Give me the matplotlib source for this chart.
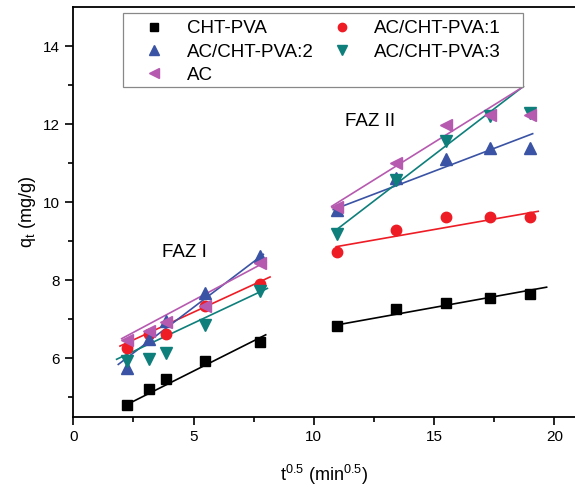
import matplotlib
matplotlib.use("Agg")
import matplotlib.pyplot as plt
from matplotlib.patches import Rectangle
import numpy as np

plt.rcParams['font.family'] = ['Liberation Sans', 'DejaVu Sans']
plt.rcParams['mathtext.default'] = 'regular'

# square root of contact time (min^0.5) for the two diffusion stages
x_faz1 = [2.24, 3.16, 3.87, 5.48, 7.75]
x_faz2 = [10.95, 13.42, 15.49, 17.32, 18.97]

names = ['CHT-PVA', 'AC/CHT-PVA:1', 'AC/CHT-PVA:2', 'AC/CHT-PVA:3', 'AC']

# q_t (mg/g)
q_faz1 = [
    [4.79, 5.20, 5.47, 5.94, 6.42],
    [6.26, 6.61, 6.62, 7.35, 7.91],
    [5.75, 6.48, 6.95, 7.68, 8.62],
    [5.92, 5.99, 6.14, 6.86, 7.72],
    [6.46, 6.69, 6.92, 7.35, 8.43],
]
q_faz2 = [
    [6.82, 7.25, 7.42, 7.55, 7.65],
    [8.73, 9.28, 9.61, 9.61, 9.61],
    [9.81, 10.63, 11.12, 11.39, 11.39],
    [9.19, 10.56, 11.56, 12.21, 12.29],
    [9.87, 11.01, 11.99, 12.25, 12.25],
]

# intraparticle diffusion fits: slope, intercept and x span of each line
fit1_slope = [0.310, 0.284, 0.468, 0.290, 0.329]
fit1_icpt = [4.12, 5.76, 4.965, 5.45, 5.84]
fit1_span = [(2.22, 8.00), (1.94, 8.18), (1.87, 7.90), (1.80, 8.07), (2.01, 7.93)]
fit2_slope = [0.111, 0.108, 0.235, 0.473, 0.385]
fit2_icpt = [5.637, 7.68, 7.27, 4.12, 5.76]
fit2_span = [(10.93, 19.68), (10.93, 19.33), (10.81, 19.10), (10.93, 18.71), (10.74, 18.71)]

colors = ['#000000', '#EE1C25', '#3A53A4', '#0E7F7B', '#B65AB0']
markers = ['s', 'o', '^', 'v', '<']
msizes = [6.5, 7.5, 8.5, 8.5, 8.5]

fig = plt.figure(figsize=(5.75, 4.87), dpi=100)
ax = fig.add_axes([0.1275, 0.1444, 0.8725, 0.8406])

handles = []
for i in range(5):
    for slope, icpt, span in ((fit1_slope[i], fit1_icpt[i], fit1_span[i]),
                              (fit2_slope[i], fit2_icpt[i], fit2_span[i])):
        xs = np.array(span)
        ax.plot(xs, icpt + slope * xs, color=colors[i], lw=1.2, zorder=2)
    ax.plot(x_faz1, q_faz1[i], ls='none', marker=markers[i], ms=msizes[i],
            color=colors[i], mec=colors[i], zorder=3)
    h, = ax.plot(x_faz2, q_faz2[i], ls='none', marker=markers[i], ms=msizes[i],
                 color=colors[i], mec=colors[i], zorder=3, label=names[i])
    handles.append(h)

ax.text(3.69, 8.70, 'FAZ I', fontsize=13.5, va='center', ha='left')
ax.text(11.3, 12.08, 'FAZ II', fontsize=13.5, va='center', ha='left')

ax.set_xlim(0, 20.86)
ax.set_ylim(4.5, 15.0)
ax.set_xticks([0, 5, 10, 15, 20])
ax.set_xticks([2.5, 7.5, 12.5, 17.5], minor=True)
ax.set_yticks([6, 8, 10, 12, 14])
ax.set_yticks([5, 7, 9, 11, 13], minor=True)
ax.tick_params(which='major', direction='out', length=6, width=1.2, labelsize=11, pad=3.5)
ax.tick_params(which='minor', direction='out', length=3.6, width=1.2)
ax.tick_params(top=False, right=False)
for side in ('left', 'bottom', 'top'):
    ax.spines[side].set_linewidth(1.3)
ax.spines['right'].set_visible(False)

ax.set_xlabel('t$^{0.5}$ (min$^{0.5}$)', fontsize=13, labelpad=14)
ax.set_ylabel('q$_t$ (mg/g)', fontsize=13, labelpad=4)

# legend frame drawn as a patch so the box can be wider than its entries
ax.add_patch(Rectangle((0.0997, 0.806), 0.797, 0.181, transform=ax.transAxes,
                       facecolor='white', edgecolor='#888888', lw=0.9, zorder=4))
order = [0, 2, 4, 1, 3]
ax.legend([handles[k] for k in order], [names[k] for k in order], ncol=2,
          loc='upper left', bbox_to_anchor=(0.0997, 0.987), frameon=False,
          fontsize=13.5, borderaxespad=0, borderpad=0.4, handlelength=2.5,
          handletextpad=0.47, columnspacing=0.25, labelspacing=0.33,
          markerscale=0.8, numpoints=1).set_zorder(5)

fig.savefig('out.png', dpi=100)
